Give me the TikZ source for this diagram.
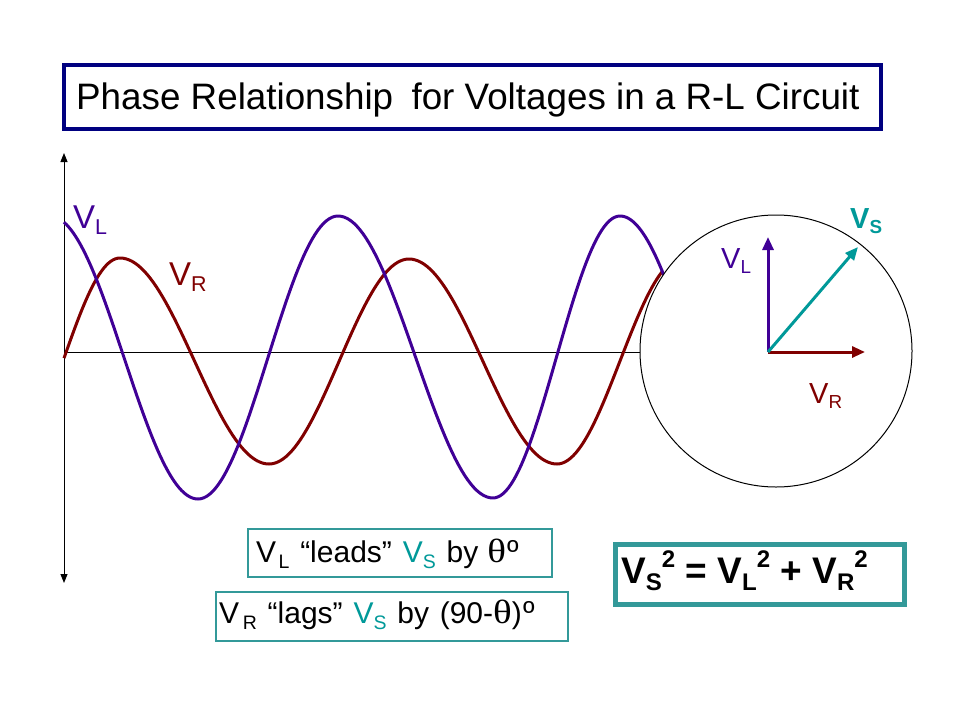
\documentclass[tikz,border=0pt]{standalone}
\usepackage{fontspec}
\setmainfont{Liberation Sans}
\newfontfamily\grk{Liberation Serif}
\usetikzlibrary{arrows.meta}
\definecolor{vlc}{RGB}{64,0,150}
\definecolor{vrc}{RGB}{128,0,0}
\definecolor{vsc}{RGB}{0,153,153}
\definecolor{tealbox}{RGB}{51,153,153}
\definecolor{navyc}{RGB}{0,0,128}
\newcommand\sbt[1]{\raisebox{-0.2em}{\scalebox{0.65}{#1}}}
\newcommand\spt[1]{\raisebox{0.42em}{\scalebox{0.65}{#1}}}
\newcommand\fsz[1]{\fontsize{#1}{#1}\selectfont}
\newcommand\wsp{\hspace{0.36em}}
\newcommand\thet{\scalebox{1.3}[1.12]{\grk θ}}
\newcommand\ordo{\hspace{0.04em}\scalebox{1.05}{º}}
% half-cosine segment from extremum (x1,y1) to extremum (x2,y2)
\newcommand\hc[4]{{(#2+#4)/2 + (#2-#4)/2*cos((\x-#1)/(#3-#1)*180)}}
\tikzset{
  vlwave/.style={draw=vlc, line width=3, line join=round},
  vrwave/.style={draw=vrc, line width=3, line join=round},
  phasor/.style={line width=3, -{Triangle[length=13pt,width=11pt]}},
  lbl/.style={anchor=base west, inner sep=0},
  thinbox/.style={draw=tealbox, line width=1.2, inner sep=0},
}
\begin{document}
\begin{tikzpicture}[x=1pt,y=-1pt]
\fill[white] (0,0) rectangle (960,720);
\useasboundingbox (0,0) rectangle (960,720);

% title
\node[draw=navyc, line width=4, minimum width=817, minimum height=64, inner sep=0] (tbox) at (472.5,97) {};
\node[lbl] (title) at (76,109) {\fsz{36.8}Phase Relationship\hspace{0.22em} for Voltages in a R-L Circuit};

% axes
\coordinate (ytop) at (64,153);
\coordinate (ybot) at (64,583);
\coordinate (xl) at (64,352);
\coordinate (xr) at (645,352);
\draw[line width=1, {Triangle[length=9pt,width=7pt]}-{Triangle[length=9pt,width=7pt]}] (ytop) -- (ybot);
\draw[line width=1] (xl) -- (xr);

% waves
\draw[vrwave]
  plot[domain=64:120, samples=25] (\x, \hc{6}{464}{120}{258})
  -- plot[domain=120:269, samples=50] (\x, \hc{120}{258}{269}{464})
  -- plot[domain=269:409, samples=50] (\x, \hc{269}{464}{409}{259})
  -- plot[domain=409:557, samples=50] (\x, \hc{409}{259}{557}{464})
  -- plot[domain=557:662, samples=40] (\x, \hc{557}{464}{683}{258});
\draw[vlwave]
  plot[domain=64:198, samples=50] (\x, \hc{50}{216}{198}{499})
  -- plot[domain=198:338, samples=50] (\x, \hc{198}{499}{338}{216})
  -- plot[domain=338:493, samples=50] (\x, \hc{338}{216}{493}{498})
  -- plot[domain=493:620, samples=50] (\x, \hc{493}{498}{620}{216})
  -- plot[domain=620:670, samples=25] (\x, \hc{620}{216}{765}{499});

% circle
\node[draw=black, line width=1, fill=white, circle, minimum size=272, inner sep=0] (circ) at (776,351) {};

% phasors
\coordinate (O) at (768,352);
\coordinate (Ltip) at (768,237);
\coordinate (Rtip) at (865,352);
\coordinate (Stip) at (858,247);
\draw[phasor, vlc] (O) -- (Ltip);
\draw[phasor, vrc] (O) -- (Rtip);
\draw[phasor, vsc] (O) -- (Stip);

% labels
\node[lbl, text=vlc] (wvl) at (73,228) {\fsz{33}V\sbt{L}};
\node[lbl, text=vrc] (wvr) at (169,285) {\fsz{33}V\sbt{R}};
\node[lbl, text=vlc] (cvl) at (721,268) {\fsz{29}V\sbt{L}};
\node[lbl, text=vrc] (cvr) at (809,403) {\fsz{29}V\sbt{R}};
\node[lbl, text=vsc] (cvs) at (850,228) {\fsz{29}\bfseries V\sbt{S}};

% bottom boxes
\node[thinbox, minimum width=304, minimum height=48] (b1) at (400,553) {};
\node[lbl] (t1) at (256,562) {\fsz{30}V\hspace{0.08em}\sbt{L}\wsp“leads”\wsp\textcolor{vsc}{V\sbt{S}}\wsp by\hspace{0.3em}\thet\ordo};
\node[thinbox, minimum width=352, minimum height=49] (b2) at (392,616.5) {};
\node[lbl] (t2) at (219,623) {\fsz{30}V\hspace{0.12em}\sbt{R}\wsp“lags”\wsp\textcolor{vsc}{V\sbt{S}}\wsp by\wsp(90-\thet)\ordo};
\node[draw=tealbox, line width=5, minimum width=289, minimum height=60, inner sep=0] (b3) at (760,574.5) {};
\node[lbl] (t3) at (621,583) {\fsz{37}\bfseries V\sbt{S}\spt{2} = V\sbt{L}\spt{2} + V\sbt{R}\spt{2}};
\end{tikzpicture}
\end{document}
